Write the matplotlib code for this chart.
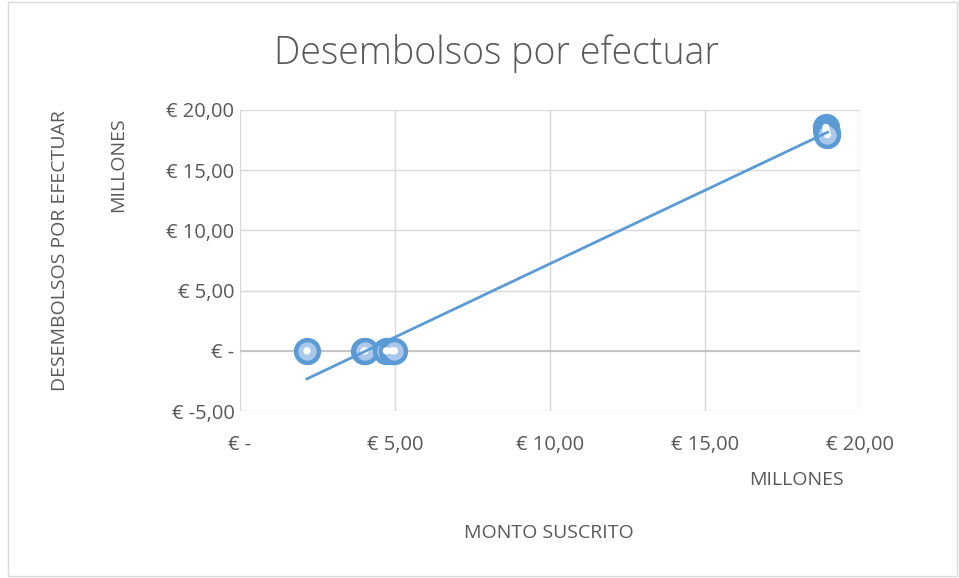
import matplotlib.pyplot as plt
import numpy as np
from matplotlib.patches import Rectangle

# monto suscrito vs desembolsos por efectuar (millones)
monto = [2.16, 4.0, 4.03, 4.72, 4.9, 4.98, 18.9, 18.9, 18.92, 18.95]
desembolsos = [0, 0, 0, 0, 0, 0, 18.55, 18.3, 18.1, 17.95]

xticks = [0, 5, 10, 15, 20]
yticks = [-5, 0, 5, 10, 15, 20]


def euro(v):
    if v == 0:
        return '€ -'
    return '€ ' + f'{v:.2f}'.replace('.', ',')


plt.rcParams['font.family'] = ['Open Sans', 'DejaVu Sans']
blue = '#5B9BD5'
txt = '#595959'

fig = plt.figure(figsize=(9.59, 5.78), dpi=100)
fig.patches.append(Rectangle((0.008, 0.003), 0.99, 0.993, transform=fig.transFigure,
                             fill=False, edgecolor='#D9D9D9', lw=1))
ax = fig.add_axes([0.2503, 0.2889, 0.6465, 0.5208])

ax.set_xlim(0, 20)
ax.set_ylim(-5, 20)
ax.set_xticks(xticks)
ax.set_yticks(yticks)
ax.set_xticklabels([euro(v) for v in xticks])
ax.set_yticklabels([euro(v) for v in yticks])
ax.grid(True, color='#D9D9D9', lw=1)
ax.set_axisbelow(True)
for s in ax.spines.values():
    s.set_visible(False)
ax.axhline(0, color='#BFBFBF', lw=1.2, zorder=1)
ax.tick_params(length=0, labelsize=14.5, labelcolor=txt)
ax.tick_params(axis='x', pad=17)
ax.tick_params(axis='y', pad=4)

ax.scatter(monto, desembolsos, s=270, facecolor='#A9C8EA', edgecolor=blue,
           linewidths=3.2, zorder=3)
ax.scatter(monto, desembolsos, s=28, facecolor='white', edgecolor='none', zorder=4)

m, b = np.polyfit(monto, desembolsos, 1)
xs = np.array([min(monto), max(monto)])
ax.plot(xs, m * xs + b, color=blue, lw=2, zorder=5)

fig.text(0.5183, 0.908, 'Desembolsos por efectuar', ha='center', va='center',
         fontsize=27, color=txt, fontweight='light')
fig.text(0.063, 0.567, 'DESEMBOLSOS POR EFECTUAR', rotation=90, ha='center',
         va='center', fontsize=14, color=txt)
fig.text(0.123, 0.797, 'MILLONES', rotation=90, ha='center', va='top',
         fontsize=14, color=txt)
fig.text(0.831, 0.17, 'MILLONES', ha='center', va='center', fontsize=14, color=txt)
fig.text(0.572, 0.077, 'MONTO SUSCRITO', ha='center', va='center', fontsize=14,
         color=txt)

fig.savefig('out.png', dpi=100)
